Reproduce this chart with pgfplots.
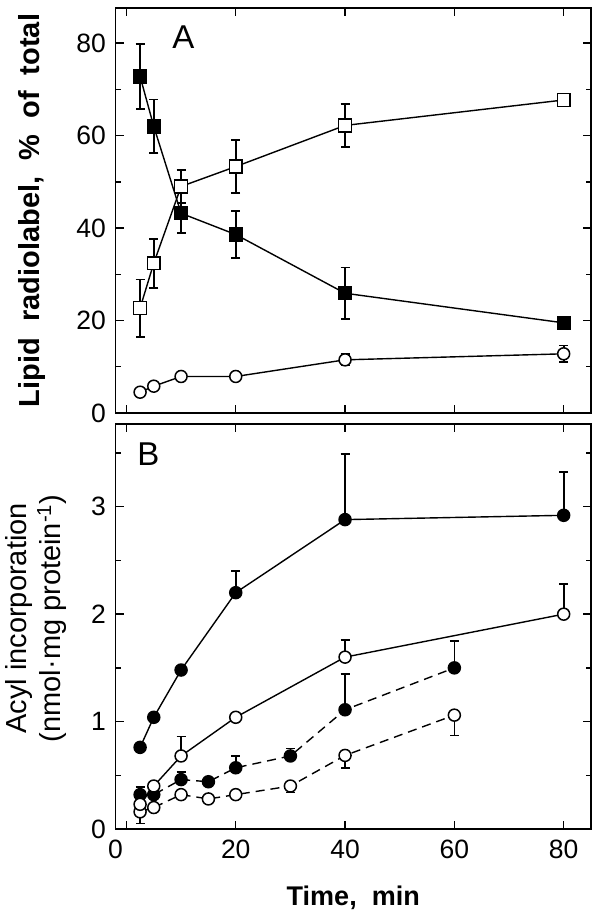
\documentclass[border=0pt]{standalone}
\usepackage{pgfplots}
\pgfplotsset{compat=1.18}
\usepackage{fontspec}
\setmainfont{Liberation Sans}
\begin{document}
\begin{tikzpicture}
\pgfplotsset{
  common/.style={
    scale only axis, width=475.5pt, height=405pt,
    xmin=-2, xmax=85,
    axis line style={line width=1.9pt},
    every tick/.style={line width=1.4pt, black},
    tick align=inside,
    major tick length=8pt, minor tick length=5pt,
    xtick={0,20,40,60,80},
    /pgf/number format/assume math mode=true,
    ticklabel style={font=\fontsize{26.5}{26.5}\selectfont},
    yticklabel style={xshift=-6pt},
    xticklabel style={yshift=-7pt},
    clip=false,
  },
  ln/.style={black, line width=1.4pt},
  fsq/.style={mark=square*, mark size=6.4pt, mark options={solid, fill=black, line width=1.5pt}},
  osq/.style={mark=square*, mark size=6.4pt, mark options={solid, fill=white, line width=1.5pt}},
  fci/.style={mark=*, mark size=6pt, mark options={solid, fill=black, line width=1.5pt}},
  oci/.style={mark=*, mark size=6pt, mark options={solid, fill=white, line width=1.5pt}},
  eb/.style={error bars/.cd, y dir=#1, y explicit,
    error bar style={line width=1.7pt, solid},
    error mark options={rotate=90, mark size=4.5pt, line width=1.7pt, solid}},
  dsh/.style={dash pattern=on 9pt off 6pt},
}
% ---------- Panel A ----------
\begin{axis}[common,
  at={(115.5pt,-8pt)}, anchor=north west,
  ymin=0, ymax=87.6,
  ytick={0,20,40,60,80}, minor ytick={10,30,50,70},
  xticklabels=\empty,
  ylabel={Lipid\ \ radiolabel,\ \ \%\ \ of\ \ total},
  ylabel style={at={(axis description cs:-0.175,0.5)}, anchor=center,
    font=\bfseries\fontsize{29}{29}\selectfont},
]
\addplot[ln, oci, eb=both] coordinates {
 (2.5,4.5) +- (0,0.8)
 (5,5.8) +- (0,0.8)
 (10,7.9) +- (0,0.8)
 (20,7.9) +- (0,0.8)
 (40,11.5) +- (0,1.2)
 (80,12.8) +- (0,1.8)
};
\addplot[ln, fsq, eb=both] coordinates {
 (2.5,72.8) +- (0,7.0)
 (5,62.0) +- (0,5.8)
 (10,43.2) +- (0,4.3)
 (20,38.6) +- (0,5.1)
 (40,25.9) +- (0,5.6)
 (80,19.5) +- (0,1.0)
};
\addplot[ln, osq, eb=both] coordinates {
 (2.5,22.7) +- (0,6.2)
 (5,32.4) +- (0,5.3)
 (10,49.0) +- (0,3.6)
 (20,53.3) +- (0,5.7)
 (40,62.2) +- (0,4.7)
 (80,67.7) +- (0,1.0)
};
\node[font=\fontsize{33}{33}\selectfont] at (axis cs:10.4,81.4) {A};
\end{axis}
% ---------- Panel B ----------
\begin{axis}[common,
  at={(115.5pt,-424pt)}, anchor=north west,
  ymin=0, ymax=3.77,
  ytick={0,1,2,3}, minor ytick={0.5,1.5,2.5,3.5},
  xticklabels={,20,40,60,80},
  extra x ticks={-2}, extra x tick labels={0},
  extra x tick style={major tick length=0pt},
  ylabel={Acyl incorporation\\(nmol·mg protein\textsuperscript{-1})},
  ylabel style={at={(axis description cs:-0.168,0.52)}, anchor=center, align=center,
    font=\fontsize{29}{34}\selectfont},
  xlabel={Time,\ \ min},
  xlabel style={at={(axis description cs:0.5,-0.19)}, anchor=base,
    font=\bfseries\fontsize{27}{27}\selectfont},
]
\addplot[ln, dsh, oci, eb=minus] coordinates {
 (2.5,0.16) +- (0,0.11)
 (5,0.20) +- (0,0)
 (10,0.32) +- (0,0)
 (15,0.28) +- (0,0.03)
 (20,0.32) +- (0,0.03)
 (30,0.40) +- (0,0.06)
 (40,0.685) +- (0,0.12)
 (60,1.06) +- (0,0.19)
};
\addplot[ln, dsh, fci, eb=plus] coordinates {
 (2.5,0.32) +- (0,0.07)
 (5,0.32) +- (0,0)
 (10,0.46) +- (0,0.07)
 (15,0.44) +- (0,0)
 (20,0.57) +- (0,0.11)
 (30,0.68) +- (0,0.07)
 (40,1.11) +- (0,0.33)
 (60,1.50) +- (0,0.25)
};
\addplot[ln, oci, eb=plus] coordinates {
 (2.5,0.23) +- (0,0)
 (5,0.40) +- (0,0)
 (10,0.68) +- (0,0.18)
 (20,1.04) +- (0,0)
 (40,1.60) +- (0,0.16)
 (80,2.00) +- (0,0.28)
};
\addplot[ln, fci, eb=plus] coordinates {
 (2.5,0.76) +- (0,0)
 (5,1.04) +- (0,0)
 (10,1.48) +- (0,0.03)
 (20,2.20) +- (0,0.20)
 (40,2.88) +- (0,0.61)
 (80,2.92) +- (0,0.40)
};
\node[font=\fontsize{33}{33}\selectfont] at (axis cs:4.0,3.49) {B};
\end{axis}
\pgfresetboundingbox
\useasboundingbox (0,0) rectangle (600pt,-923pt);
\end{tikzpicture}
\end{document}
